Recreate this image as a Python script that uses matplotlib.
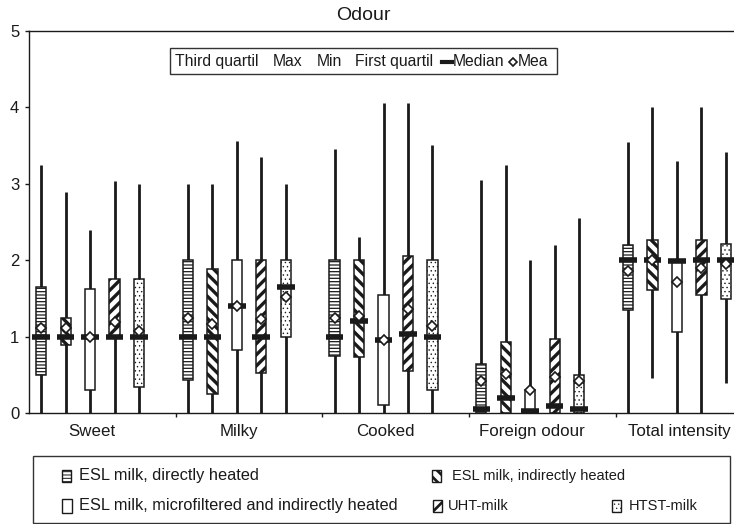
import matplotlib
matplotlib.use("Agg")
import matplotlib.pyplot as plt
from matplotlib.patches import Rectangle
from matplotlib.lines import Line2D

plt.rcParams['font.family'] = ['Liberation Sans', 'DejaVu Sans']

# ---------------- data ----------------
categories = ["Sweet", "Milky", "Cooked", "Foreign odour", "Total intensity"]
series = ["ESL milk, directly heated", "ESL milk, indirectly heated",
          "ESL milk, microfiltered and indirectly heated", "UHT-milk", "HTST-milk"]

# rows = series, columns = categories
max_vals = [[3.24, 3.00, 3.45, 3.05, 3.55],
            [2.89, 3.00, 2.30, 3.25, 4.00],
            [2.39, 3.56, 4.06, 2.00, 3.30],
            [3.03, 3.35, 4.06, 2.20, 4.00],
            [3.00, 3.00, 3.51, 2.55, 3.41]]
q3_vals = [[1.65, 2.00, 2.00, 0.65, 2.20],
           [1.25, 1.89, 2.00, 0.93, 2.27],
           [1.63, 2.00, 1.54, 0.30, 2.00],
           [1.75, 2.00, 2.06, 0.97, 2.26],
           [1.75, 2.00, 2.00, 0.50, 2.21]]
median_vals = [[1.00, 1.00, 1.00, 0.05, 2.00],
               [1.00, 1.00, 1.21, 0.20, 2.00],
               [1.00, 1.40, 0.96, 0.03, 1.99],
               [1.00, 1.00, 1.03, 0.09, 2.00],
               [1.00, 1.65, 1.00, 0.06, 2.00]]
mean_vals = [[1.11, 1.24, 1.25, 0.42, 1.86],
             [1.12, 1.17, 1.27, 0.52, 2.00],
             [1.00, 1.40, 0.96, 0.31, 1.71],
             [1.19, 1.23, 1.36, 0.48, 1.90],
             [1.07, 1.52, 1.14, 0.42, 1.95]]
q1_vals = [[0.50, 0.44, 0.75, 0.00, 1.35],
           [0.89, 0.25, 0.74, 0.00, 1.61],
           [0.30, 0.83, 0.11, 0.00, 1.06],
           [1.00, 0.53, 0.55, 0.00, 1.55],
           [0.34, 1.00, 0.30, 0.00, 1.50]]
min_vals = [[0.00, 0.00, 0.00, 0.00, 0.00],
            [0.00, 0.00, 0.00, 0.00, 0.46],
            [0.00, 0.00, 0.00, 0.00, 0.00],
            [0.00, 0.00, 0.00, 0.00, 0.00],
            [0.00, 0.00, 0.00, 0.00, 0.40]]
y_ticks = [0, 1, 2, 3, 4, 5]

# ---------------- styles ----------------
hatches = ['-----', '\\\\\\', '', '///', '....']
hatch_lws = [0.9, 2.4, 1.0, 2.4, 0.5]
INK = '#1a1a1a'

W, H = 734, 524
fig = plt.figure(figsize=(W / 100, H / 100), dpi=100)
ax = fig.add_axes([29 / W, (H - 413.3) / H, 733.5 / W, 382.6 / H])


def fx(x):
    return x / W


def fy(y):
    return 1 - y / H


def set_hlw(p, lw):
    if hasattr(p, 'set_hatch_linewidth'):
        p.set_hatch_linewidth(lw)


n_slots = 6
box_w = 0.07
med_w = 0.12
for si in range(len(series)):
    plt.rcParams['hatch.linewidth'] = hatch_lws[si]
    for ci in range(len(categories)):
        x = ci + (si + 0.5) / n_slots
        ax.vlines(x, min_vals[si][ci], max_vals[si][ci], colors=INK, lw=2.0, zorder=1)
        lo, hi = q1_vals[si][ci], q3_vals[si][ci]
        r = Rectangle((x - box_w / 2, lo), box_w, hi - lo, facecolor='white',
                      edgecolor=INK, lw=1.1, hatch=hatches[si], zorder=2)
        set_hlw(r, hatch_lws[si])
        ax.add_patch(r)
        ax.hlines(median_vals[si][ci], x - med_w / 2, x + med_w / 2, colors=INK,
                  lw=4.0, zorder=3)
        ax.plot([x], [mean_vals[si][ci]], marker='D', ms=4.8, mfc='white',
                mec=INK, mew=1.2, zorder=4, linestyle='none')

ax.set_xlim(0, len(categories))
ax.set_ylim(0, 5)
ax.set_yticks(y_ticks)
ax.set_yticklabels([str(t) for t in y_ticks], fontsize=12, color=INK)
ax.set_xticks(range(1, len(categories)))
ax.set_xticklabels([])
ax.set_xticks([c + 0.43 for c in range(len(categories))], minor=True)
ax.set_xticklabels(categories, minor=True, fontsize=12.2, color=INK)
ax.tick_params(axis='x', which='minor', length=0, pad=8)
ax.tick_params(axis='x', which='major', length=3, width=1, direction='out', color=INK)
ax.tick_params(axis='y', length=3, width=1, direction='out', pad=4, color=INK)
for s in ['left', 'top', 'bottom', 'right']:
    ax.spines[s].set_color(INK)
    ax.spines[s].set_linewidth(1.0)

# title
fig.text(fx(363), fy(15), "Odour", fontsize=14, ha='center', va='center', color=INK)

# top legend (statistics)
fig.add_artist(Rectangle((fx(170), fy(74.3)), (556.7 - 170) / W, (74.3 - 48.3) / H,
                         transform=fig.transFigure, facecolor='white', edgecolor='#333333',
                         lw=1.0, zorder=5))
top_items = [("Third quartil", 175), ("Max", 272.7), ("Min", 316.7),
             ("First quartil", 355), ("Median", 452.7), ("Mea", 518)]
for txt, x0 in top_items:
    fig.text(fx(x0), fy(61.5), txt, fontsize=11.3, ha='left', va='center', color=INK, zorder=6)
fig.add_artist(Line2D([fx(441.7), fx(451.7)], [fy(61.5), fy(61.5)], lw=3, color=INK,
                      transform=fig.transFigure, zorder=6))
fig.add_artist(Line2D([fx(513)], [fy(61.5)], marker='D', ms=3.8, mfc='white', mec=INK,
                      mew=1.2, linestyle='none', transform=fig.transFigure, zorder=6))

# bottom legend (series)
fig.add_artist(Rectangle((fx(33.3), fy(523.3)), (730 - 33.3) / W, (523.3 - 455.7) / H,
                         transform=fig.transFigure, facecolor='white', edgecolor='#333333',
                         lw=1.0, zorder=5))
# (marker x, row y, text x, fontsize)
leg_layout = [(62, 475.7, 78.7, 11.8),
              (432, 475.7, 452.3, 10.5),
              (62, 505.5, 78.7, 11.8),
              (433, 505.5, 448, 10.5),
              (612, 505.5, 629, 10.5)]
for si, (mx, my, tx, fsz) in enumerate(leg_layout):
    plt.rcParams['hatch.linewidth'] = hatch_lws[si] * 0.8
    hw = 9 if si != 2 else 10
    hh = 12 if si != 2 else 14
    r = Rectangle((fx(mx), fy(my + hh / 2)), hw / W, hh / H, transform=fig.transFigure,
                  facecolor='white', edgecolor=INK, lw=1.0, hatch=hatches[si], zorder=6)
    set_hlw(r, hatch_lws[si] * 0.8)
    fig.add_artist(r)
    fig.text(fx(tx), fy(my), series[si], fontsize=fsz, ha='left', va='center',
             color=INK, zorder=6)

fig.savefig("out.png", dpi=100)
